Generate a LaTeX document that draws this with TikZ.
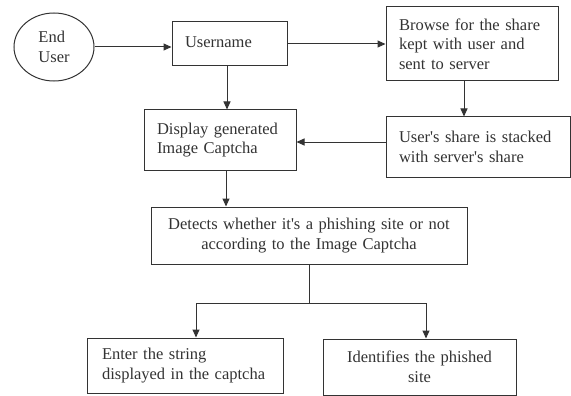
\documentclass[tikz,border=0pt]{standalone}
\usepackage{fontspec}
\setmainfont{Liberation Serif}
\usetikzlibrary{arrows.meta,shapes.geometric}
\definecolor{ink}{HTML}{333333}
\begin{document}
\begin{tikzpicture}[x=1pt,y=-1pt,
  every node/.style={font=\fontsize{16.5}{19.5}\selectfont, text=ink},
  box/.style={draw=ink, line width=1pt, rectangle, inner sep=0pt},
  arr/.style={draw=ink, line width=1pt, -{Triangle[length=8pt,width=7pt]}},
  ln/.style={draw=ink, line width=1pt}]
\useasboundingbox (0,0) rectangle (571,396);
\node[draw=ink, line width=1pt, ellipse, minimum width=80pt, minimum height=68pt, inner sep=0pt, align=left] (end) at (54,47) {End\\User};
\node[box, minimum width=115pt, minimum height=44pt, text width=89pt, align=left] (user) at (229.5,44) {Username\vphantom{g}};
\node[box, minimum width=172pt, minimum height=74pt, text width=146pt, align=left] (browse) at (472,44) {Browse for the share\\kept with user and\\sent to server};
\node[box, minimum width=152pt, minimum height=60pt, text width=126pt, align=left] (disp) at (220,140) {Display generated\\Image Captcha};
\node[box, minimum width=184pt, minimum height=60pt, text width=158pt, align=left] (share) at (478,147) {User\textquotesingle s share is stacked\\with server\textquotesingle s share};
\node[box, minimum width=316pt, minimum height=57pt, text width=300pt, align=center] (detect) at (309,235.5) {Detects whether it\textquotesingle s a phishing site or not\\according to the Image Captcha};
\node[box, minimum width=196pt, minimum height=55pt, text width=166pt, align=left] (enter) at (185,365.5) {Enter the string\\displayed in the captcha};
\node[box, minimum width=193pt, minimum height=56pt, text width=180pt, align=center] (ident) at (419.5,367) {Identifies the phished\\site};
\draw[arr] (end.east) -- (user.west |- end.east);
\draw[arr] (user.east) -- (browse.west);
\draw[arr] ([xshift=-2.5pt]user.south) -- ([xshift=-2.5pt]user.south |- disp.north);
\draw[arr] ([xshift=-8pt]browse.south) -- ([xshift=-8pt]browse.south |- share.north);
\draw[arr] ([yshift=5pt]share.west) -- ([yshift=5pt]share.west -| disp.east);
\draw[arr] ([xshift=6pt]disp.south) -- ([xshift=6pt]disp.south |- detect.north);
\coordinate (j) at (309,303);
\draw[ln] (detect.south) -- (j);
\draw[arr] (j) -| ([xshift=11pt]enter.north);
\draw[arr] (j) -| ([xshift=6.5pt]ident.north);
\end{tikzpicture}
\end{document}
